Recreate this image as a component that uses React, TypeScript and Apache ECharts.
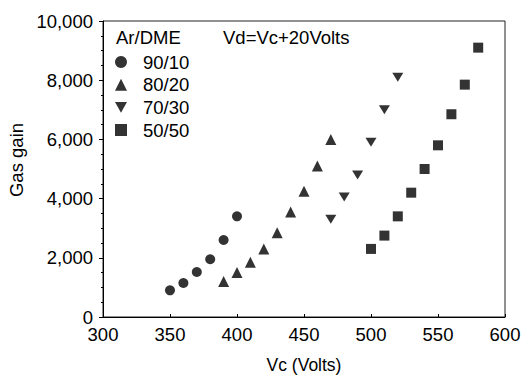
import React, { useEffect, useRef } from "react";
import * as echarts from "echarts";

const seriesNames = ["90/10", "80/20", "70/30", "50/50"];
const vc9010 = [350, 360, 370, 380, 390, 400];
const gain9010 = [900, 1150, 1520, 1950, 2600, 3400];
const vc8020 = [390, 400, 410, 420, 430, 440, 450, 460, 470];
const gain8020 = [1200, 1500, 1850, 2300, 2850, 3550, 4250, 5100, 6000];
const vc7030 = [470, 480, 490, 500, 510, 520];
const gain7030 = [3300, 4050, 4800, 5900, 7000, 8100];
const vc5050 = [500, 510, 520, 530, 540, 550, 560, 570, 580];
const gain5050 = [2300, 2750, 3400, 4200, 5000, 5800, 6850, 7850, 9100];

const FONT = "'Liberation Sans', Arial, Helvetica, sans-serif";
const DOWN_TRI = "path://M0,0L10,0L5,9Z";

const zip = (xs: number[], ys: number[]) => xs.map((x, i) => [x, ys[i]]);

export default function App() {
  const ref = useRef<HTMLDivElement>(null);
  useEffect(() => {
    document.body.style.margin = "0";
    if (!ref.current) return;
    const chart = echarts.init(ref.current, null, { renderer: "svg" });
    const mk = (name: string, data: number[][], symbol: string, size: number | number[]) => ({
      name,
      type: "scatter",
      data,
      symbol,
      symbolSize: size,
      symbolKeepAspect: true,
      itemStyle: { color: "#000" },
    });
    chart.setOption({
      animation: false,
      backgroundColor: "#fff",
      textStyle: { fontFamily: FONT, color: "#000" },
      grid: {
        left: 103,
        right: 27,
        top: 21,
        bottom: 65,
        show: true,
        borderColor: "#222",
        borderWidth: 1,
      },
      xAxis: {
        type: "value",
        min: 300,
        max: 600,
        interval: 50,
        name: "Vc (Volts)",
        nameLocation: "middle",
        nameGap: 39,
        nameTextStyle: { fontSize: 17.5, color: "#000", fontFamily: FONT },
        axisLine: { lineStyle: { color: "#000", width: 1 } },
        axisTick: { inside: true, length: 3, lineStyle: { color: "#000" } },
        axisLabel: { fontSize: 18.5, color: "#000", margin: 8, fontFamily: FONT },
        splitLine: { show: false },
      },
      yAxis: {
        type: "value",
        min: 0,
        max: 10000,
        interval: 2000,
        axisLine: { show: true, lineStyle: { color: "#000", width: 1 } },
        axisTick: { show: true, inside: false, length: 4, lineStyle: { color: "#000" } },
        minorTick: { show: true, splitNumber: 4, length: 2, lineStyle: { color: "#000" } },
        axisLabel: {
          fontSize: 18.5,
          color: "#000",
          margin: 10,
          fontFamily: FONT,
          formatter: (v: number) => v.toLocaleString("en-US"),
        },
        splitLine: { show: false },
      },
      legend: {
        orient: "vertical",
        left: 110,
        top: 47,
        itemWidth: 12,
        itemHeight: 12,
        itemGap: 2.67,
        data: seriesNames,
        textStyle: {
          fontSize: 18.5,
          color: "#000",
          fontFamily: FONT,
          lineHeight: 20,
          padding: [0, 0, 0, 11],
        },
      },
      graphic: [
        {
          type: "text",
          left: 116,
          top: 28,
          style: { text: "Ar/DME", font: `18.5px ${FONT}`, fill: "#000" },
        },
        {
          type: "text",
          left: 223,
          top: 28,
          style: { text: "Vd=Vc+20Volts", font: `18.5px ${FONT}`, fill: "#000" },
        },
        {
          type: "text",
          x: 16,
          y: 160,
          rotation: Math.PI / 2,
          style: {
            text: "Gas gain",
            font: `18.5px ${FONT}`,
            fill: "#000",
            align: "center",
            verticalAlign: "middle",
          },
        },
      ],
      series: [
        mk(seriesNames[0], zip(vc9010, gain9010), "circle", 10),
        mk(seriesNames[1], zip(vc8020, gain8020), "triangle", 11),
        mk(seriesNames[2], zip(vc7030, gain7030), DOWN_TRI, [11, 10]),
        mk(seriesNames[3], zip(vc5050, gain5050), "rect", 10),
      ],
    });
    return () => chart.dispose();
  }, []);
  return <div ref={ref} style={{ width: 532, height: 382 }} />;
}
